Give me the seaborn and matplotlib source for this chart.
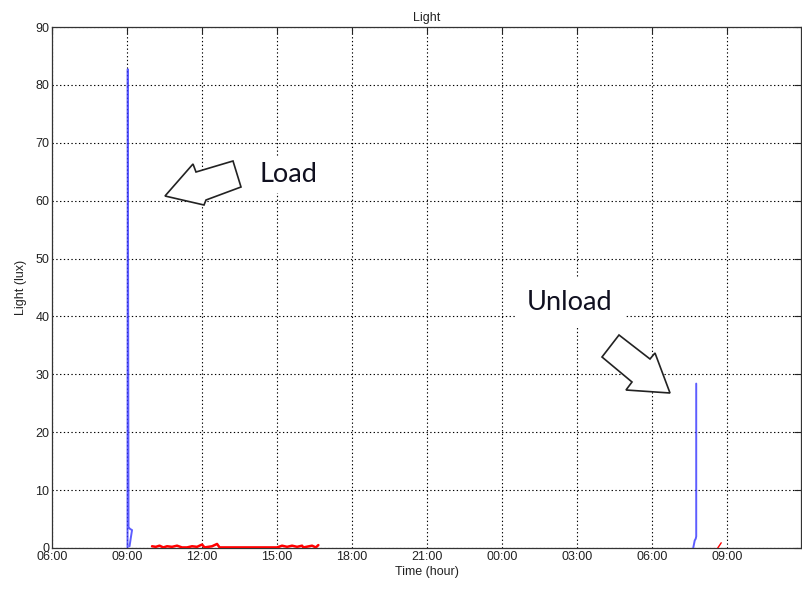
import numpy as np
import pandas as pd
import matplotlib
matplotlib.use("Agg")
import matplotlib.pyplot as plt
from matplotlib.patches import Polygon
import seaborn as sns

# ---- data (hours elapsed since 06:00 on day 1) ----
load_time = [3.02, 3.03, 3.06, 3.12, 3.20, 3.16, 3.10]
load_lux = [0.0, 82.7, 3.6, 3.3, 3.1, 2.0, 0.3]

unload_time = [25.64, 25.70, 25.74, 25.76, 25.76]
unload_lux = [0.0, 1.3, 1.6, 2.0, 28.4]

red_time = [4.00, 4.15, 4.30, 4.45, 4.60, 4.80, 5.00, 5.20, 5.40, 5.60, 5.80,
            6.00, 6.10, 6.40, 6.60, 6.70, 7.00, 7.40, 7.80, 8.20, 8.60, 9.00,
            9.20, 9.40, 9.60, 9.80, 10.00, 10.05, 10.30, 10.40, 10.55, 10.65]
red_lux = [0.3, 0.2, 0.4, 0.1, 0.3, 0.2, 0.4, 0.1, 0.1, 0.3, 0.2,
           0.6, 0.1, 0.3, 0.7, 0.1, 0.1, 0.1, 0.1, 0.1, 0.1, 0.1,
           0.4, 0.2, 0.4, 0.2, 0.4, 0.1, np.nan, 0.4, 0.1, 0.5]

red2_time = [26.62, 26.70, 26.76]
red2_lux = [0.0, 0.5, 0.9]

xtick_pos = [0, 3, 6, 9, 12, 15, 18, 21, 24, 27]
xtick_labels = ["06:00", "09:00", "12:00", "15:00", "18:00", "21:00",
                "00:00", "03:00", "06:00", "09:00"]
ytick_pos = [0, 10, 20, 30, 40, 50, 60, 70, 80, 90]

sns.set_style("white")
plt.rcParams["font.family"] = ["Liberation Sans Narrow", "Liberation Sans", "DejaVu Sans"]

W, H = 803, 591
fig = plt.figure(figsize=(W / 100, H / 100), dpi=100)
ax = fig.add_axes([52 / W, 1 - 548 / H, (801 - 52) / W, (548 - 27) / H])

df_load = pd.DataFrame({"t": load_time, "v": load_lux})
df_unload = pd.DataFrame({"t": unload_time, "v": unload_lux})
df_red = pd.DataFrame({"t": red_time, "v": red_lux})
df_red2 = pd.DataFrame({"t": red2_time, "v": red2_lux})

sns.lineplot(data=df_red, x="t", y="v", ax=ax, color="#ff0000", lw=1.8,
             sort=False, estimator=None, zorder=3)
sns.lineplot(data=df_red2, x="t", y="v", ax=ax, color="#ff0000", lw=1.0,
             sort=False, estimator=None, zorder=3)
sns.lineplot(data=df_load, x="t", y="v", ax=ax, color="#3535ff", lw=1.4,
             sort=False, estimator=None, zorder=3, alpha=0.8)
sns.lineplot(data=df_unload, x="t", y="v", ax=ax, color="#3535ff", lw=1.4,
             sort=False, estimator=None, zorder=3, alpha=0.8)

ax.set_xlim(0, 29.95)
ax.set_ylim(0, 90)
ax.set_xticks(xtick_pos)
ax.set_xticklabels(xtick_labels)
ax.set_yticks(ytick_pos)
ax.grid(True, color="black", linestyle=(0, (1.2, 2.2)), linewidth=0.8)
ax.set_axisbelow(True)
ax.tick_params(direction="in", length=5, width=0.8, top=True, right=True,
               labelsize=9, colors="#222222", pad=2)
for s in ax.spines.values():
    s.set_visible(True)
    s.set_color("#333333")
    s.set_linewidth(0.9)

ax.set_title("Light", fontsize=9, pad=4, color="#222222")
ax.set_xlabel("Time (hour)", fontsize=9, labelpad=2, color="#222222")
ax.set_ylabel("Light (lux)", fontsize=9, labelpad=6, color="#222222")


def px(points):
    return [(x / W, 1 - y / H) for x, y in points]


load_arrow = [(165, 196), (193, 164), (196, 172), (233, 161), (241, 187),
              (206, 200), (204, 205)]
unload_arrow = [(619, 335), (650, 359), (655, 353), (670, 393), (626, 390),
                (632, 382), (602, 357)]
for pts in (load_arrow, unload_arrow):
    fig.patches.append(Polygon(px(pts), closed=True, transform=fig.transFigure,
                               facecolor="white", edgecolor="#222222", lw=1.2,
                               zorder=5))

txt_font = ["Lato", "Open Sans", "DejaVu Sans"]
fig.text(260 / W, 1 - 175 / H, "Load", fontsize=19.5, family=txt_font,
         color="#101020", va="center", ha="left",
         bbox=dict(facecolor="white", edgecolor="none", pad=4), zorder=6)
fig.text(527 / W, 1 - 302 / H, "Unload", fontsize=19.5, family=txt_font,
         color="#101020", va="center", ha="left",
         bbox=dict(facecolor="white", edgecolor="none", pad=9), zorder=6)

fig.savefig("out.png", dpi=100, facecolor="white")
